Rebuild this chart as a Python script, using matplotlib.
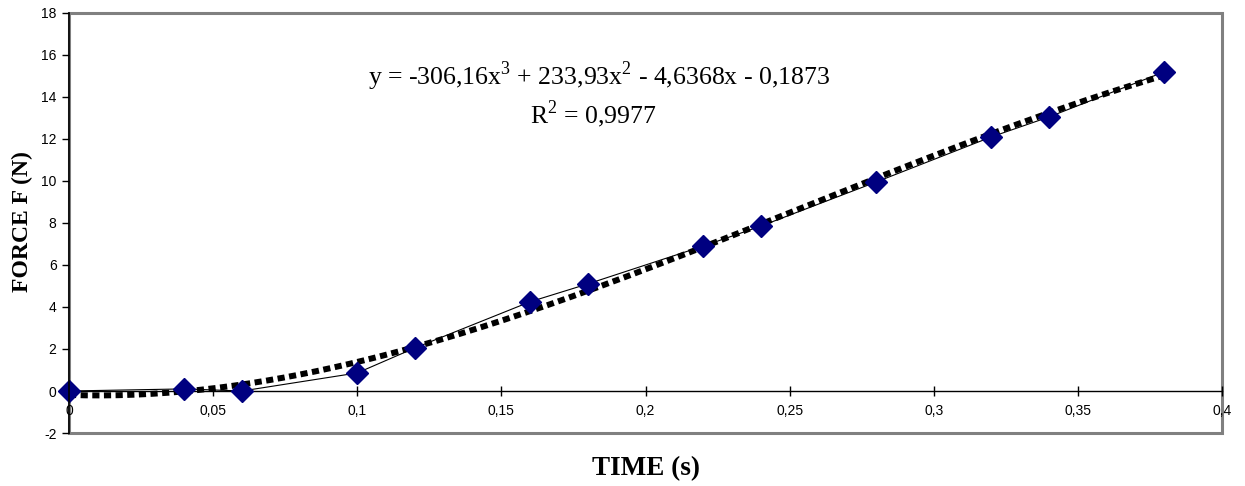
import numpy as np
import matplotlib
matplotlib.use("Agg")
import matplotlib.pyplot as plt
from matplotlib.patches import Rectangle
from matplotlib.ticker import FuncFormatter

# measured points
time_s = [0, 0.04, 0.06, 0.10, 0.12, 0.16, 0.18, 0.22, 0.24, 0.28, 0.32, 0.34, 0.38]
force_n = [0, 0.1, 0.0, 0.86, 2.05, 4.25, 5.1, 6.9, 7.85, 9.95, 12.1, 13.05, 15.2]

# cubic trendline as printed on the chart
trend_coef = [-306.16, 233.93, -4.6368, -0.1873]
eq_text = "y = -306,16x$^3$ + 233,93x$^2$ - 4,6368x - 0,1873"
r2_text = "R$^2$ = 0,9977"

xticks = [0, 0.05, 0.1, 0.15, 0.2, 0.25, 0.3, 0.35, 0.4]
yticks = list(range(-2, 19, 2))

plt.rcParams['mathtext.fontset'] = 'custom'
plt.rcParams['mathtext.rm'] = 'Liberation Serif'

fig = plt.figure(figsize=(12.45, 4.86), dpi=100)
ax = fig.add_axes([69/1245, 1-433/486, (1222-69)/1245, (433-13)/486])

# trendline
xt = np.linspace(0, max(time_s), 200)
ax.plot(xt, np.polyval(trend_coef, xt), color='black', lw=4.3,
        linestyle=(0, (1.2, 0.75)), dash_capstyle='butt', zorder=3)
# data
ax.plot(time_s, force_n, color='black', lw=0.8, zorder=2)
ax.plot(time_s, force_n, linestyle='none', marker='D', ms=11,
        color='#000080', mec='#000080', zorder=4, clip_on=False)

ax.set_xlim(0, 0.4)
ax.set_ylim(-2, 18)
ax.set_xticks(xticks)
ax.set_yticks(yticks)

def comma(v, pos):
    s = ('%.2f' % v).rstrip('0').rstrip('.')
    return s.replace('.', ',')

ax.xaxis.set_major_formatter(FuncFormatter(comma))
ax.yaxis.set_major_formatter(FuncFormatter(lambda v, p: '%d' % v))

for s in ['top', 'right']:
    ax.spines[s].set_visible(False)
ax.spines['bottom'].set_position(('data', 0))
ax.spines['bottom'].set_color('black')
ax.spines['bottom'].set_linewidth(1)
ax.spines['left'].set_color('black')
ax.spines['left'].set_linewidth(1.2)
ax.spines['left'].set_zorder(5)

ax.add_patch(Rectangle((0, 0), 1, 1, transform=ax.transAxes, fill=False,
                       edgecolor='#808080', lw=2.2, clip_on=False, zorder=1))

ax.tick_params(axis='x', direction='inout', length=7, width=1, pad=6,
               labelsize=10, labelfontfamily='Liberation Sans')
ax.tick_params(axis='y', direction='out', length=5, width=1, pad=4,
               labelsize=10, labelfontfamily='Liberation Sans')

ax.text(0.184, 15.0, eq_text, ha='center', va='center', fontsize=18.5,
        family='Liberation Serif')
ax.text(0.182, 13.2, r2_text, ha='center', va='center', fontsize=18.5,
        family='Liberation Serif')

fig.text(646/1245, 1-469/486, 'TIME (s)', ha='center', va='center',
         fontsize=19.5, fontweight='bold', family='Liberation Serif')
fig.text(22/1245, 1-222/486, 'FORCE F (N)', ha='center', va='center',
         rotation=90, fontsize=17, fontweight='bold', family='Liberation Serif')

fig.savefig('out.png', dpi=100)
